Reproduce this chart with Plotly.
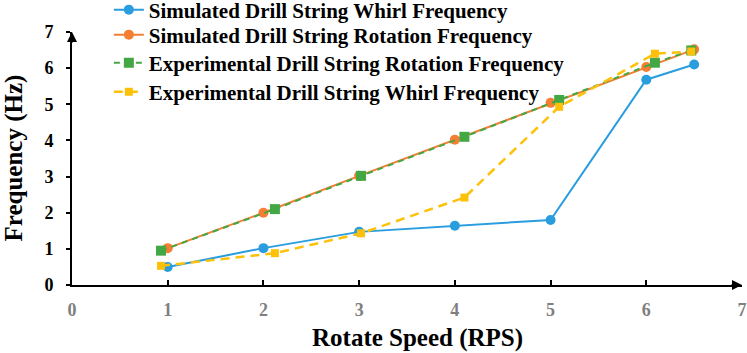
import plotly.graph_objects as go

# Data
sim_x = [1, 2, 3, 4, 5, 6, 6.5]
sim_whirl = [0.5, 1.02, 1.47, 1.64, 1.8, 5.68, 6.1]
sim_rot = [1.02, 2.0, 3.02, 4.02, 5.04, 6.03, 6.52]
exp_x = [0.93, 2.12, 3.02, 4.1, 5.09, 6.09, 6.47]
exp_rot = [0.95, 2.1, 3.02, 4.1, 5.12, 6.15, 6.49]
exp_whirl = [0.53, 0.88, 1.43, 2.42, 4.93, 6.4, 6.46]

x_ticks = [0, 1, 2, 3, 4, 5, 6, 7]
y_ticks = [0, 1, 2, 3, 4, 5, 6, 7]

BLUE = "#2a9ddf"
ORANGE = "#f47f32"
GREEN = "#43a843"
YELLOW = "#fec10a"
FONT = "'Liberation Serif', 'DejaVu Serif', serif"

fig = go.Figure()
fig.add_trace(go.Scatter(x=sim_x, y=sim_whirl, mode="lines+markers", legend="legend",
                         name="Simulated Drill String Whirl Frequency",
                         line=dict(color=BLUE, width=2), marker=dict(symbol="circle", size=10, color=BLUE)))
fig.add_trace(go.Scatter(x=sim_x, y=sim_rot, mode="lines+markers", legend="legend2",
                         name="Simulated Drill String Rotation Frequency",
                         line=dict(color=ORANGE, width=2), marker=dict(symbol="circle", size=10, color=ORANGE)))
fig.add_trace(go.Scatter(x=exp_x, y=exp_rot, mode="lines+markers", legend="legend3",
                         name="Experimental Drill String Rotation Frequency",
                         line=dict(color=GREEN, width=2, dash="6px,5px"), marker=dict(symbol="square", size=10, color=GREEN)))
fig.add_trace(go.Scatter(x=exp_x, y=exp_whirl, mode="lines+markers", legend="legend4",
                         name="Experimental Drill String Whirl Frequency",
                         line=dict(color=YELLOW, width=2.5, dash="9px,6px"), marker=dict(symbol="square", size=8, color=YELLOW)))

def leg(ypx):
    return dict(x=0.055, xanchor="left", y=1 - ypx / 353, yref="container", yanchor="middle",
                bgcolor="rgba(0,0,0,0)", itemwidth=30,
                font=dict(family=FONT, size=21, color="black", weight="bold"))

fig.update_layout(
    width=747, height=353,
    margin=dict(l=72, r=5, t=32, b=68, autoexpand=False),
    plot_bgcolor="white", paper_bgcolor="white",
    font=dict(family=FONT, size=20, color="black"),
    showlegend=True,
    legend=leg(10), legend2=leg(35), legend3=leg(63), legend4=leg(92),
    xaxis=dict(range=[0, 7], tickvals=x_ticks, ticktext=[str(v) for v in x_ticks],
               automargin=False,
               showgrid=False, zeroline=False, showline=True, linecolor="black", linewidth=2,
               ticks="inside", ticklen=5, tickwidth=2, tickcolor="black",
               ticklabelstandoff=7,
               tickfont=dict(family=FONT, size=18, color="#7f7f7f", weight="bold")),
    yaxis=dict(range=[0, 7], tickvals=y_ticks, ticktext=[str(v) for v in y_ticks],
               automargin=False,
               showgrid=False, zeroline=False, showline=True, linecolor="black", linewidth=2,
               ticks="outside", ticklen=4, tickwidth=2, tickcolor="black",
               ticklabelstandoff=9,
               tickfont=dict(family=FONT, size=18, color="black", weight="bold")),
)

# axis titles
fig.add_annotation(text="<b>Rotate Speed (RPS)</b>", xref="paper", yref="paper", x=0.516, y=0,
                   yshift=-53, xanchor="center", yanchor="middle", showarrow=False,
                   font=dict(family=FONT, size=25, color="black"))
fig.add_annotation(text="<b>Frequency (Hz)</b>", xref="paper", yref="paper", x=0, y=0.5,
                   xshift=-59, xanchor="center", yanchor="middle", showarrow=False, textangle=-90,
                   font=dict(family=FONT, size=25, color="black"))

# axis arrowheads
fig.add_annotation(x=7, y=0, xref="x", yref="y", ax=-12, ay=0, text="", showarrow=True,
                   arrowhead=2, arrowsize=1, arrowwidth=2, arrowcolor="black")
fig.add_annotation(x=0, y=7, xref="x", yref="y", ax=0, ay=12, text="", showarrow=True,
                   arrowhead=2, arrowsize=1, arrowwidth=2, arrowcolor="black")

fig.write_html("out.html", config={"displayModeBar": False},
               post_script="document.body.style.margin='0px';")
